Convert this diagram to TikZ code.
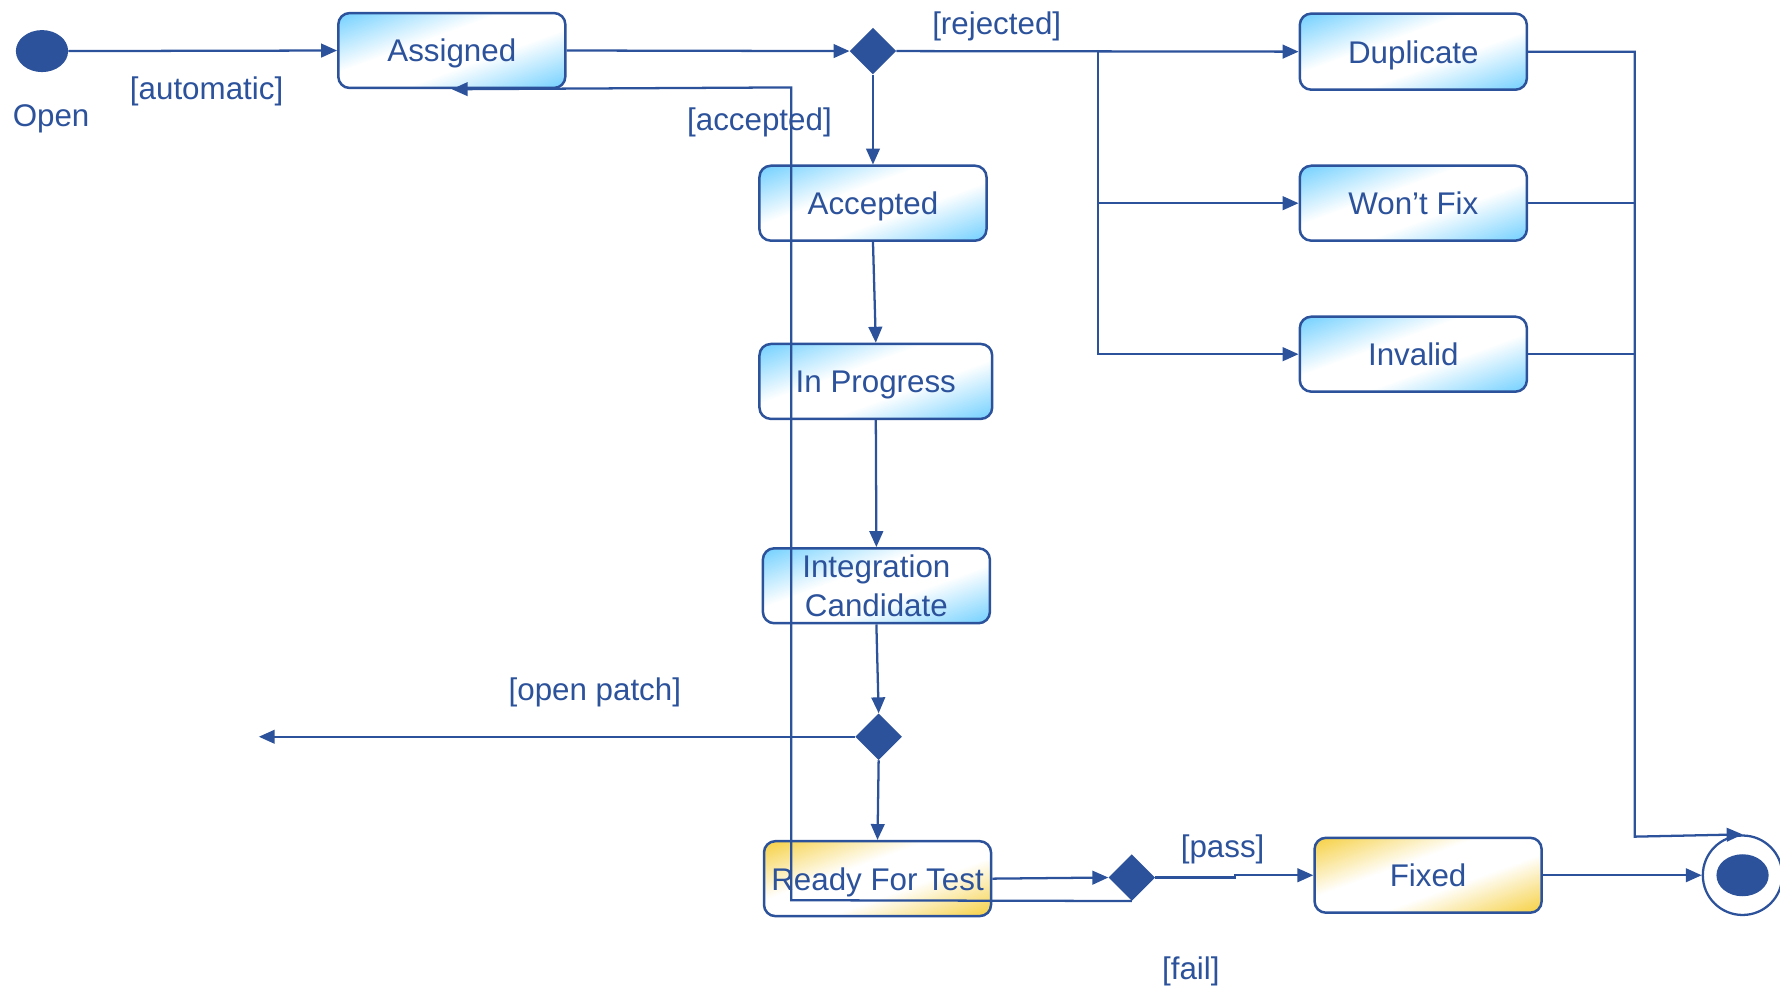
\documentclass[tikz,border=0pt]{standalone}
\usepackage{fontspec}
\setmainfont{Liberation Sans}
\usetikzlibrary{arrows.meta,shapes.geometric}
\definecolor{lc}{RGB}{44,82,155}
\definecolor{lblue}{RGB}{102,204,255}
\definecolor{lgold}{RGB}{245,204,50}
\pgfdeclarehorizontalshading{bluesh}{100bp}{color(0bp)=(lblue); color(16bp)=(lblue); color(42bp)=(white); color(58bp)=(white); color(84bp)=(lblue); color(100bp)=(lblue)}
\pgfdeclarehorizontalshading{goldsh}{100bp}{color(0bp)=(lgold); color(16bp)=(lgold); color(42bp)=(white); color(58bp)=(white); color(84bp)=(lgold); color(100bp)=(lgold)}
\begin{document}
\begin{tikzpicture}[x=1pt,y=-1pt,
  every node/.style={text=lc, font=\fontsize{27.6}{34}\selectfont},
  statebox/.style={draw=lc, line width=2.2pt, rounded corners=10pt, minimum width=200pt, minimum height=66pt, inner sep=0pt, align=center},
  onel/.style={text height=20pt, text depth=0pt},
  bluestate/.style={statebox, shading=bluesh, shading angle=-70},
  goldstate/.style={statebox, shading=goldsh, shading angle=-70},
  dec/.style={diamond, fill=lc, minimum width=41pt, minimum height=41pt, inner sep=0pt},
  conn/.style={draw=lc, line width=2pt},
  arr/.style={conn, -{Triangle[length=14pt,width=12pt]}},
  lbl/.style={inner sep=0pt, onel}
]
\useasboundingbox (0,0) rectangle (1568,869);

% initial and final
\node[ellipse, fill=lc, minimum width=46pt, minimum height=37pt, inner sep=0pt] (open) at (37,45) {};
\node[circle, draw=lc, line width=2pt, minimum size=70pt, inner sep=0pt, fill=white] (final) at (1535,771) {};
\node[ellipse, fill=lc, minimum width=46pt, minimum height=37pt, inner sep=0pt] (finalin) at (1535,771) {};

% states
\node[bluestate, onel] (assigned) at (398,44.5) {Assigned};
\node[bluestate, onel] (accepted) at (769,179) {Accepted};
\node[bluestate, onel, minimum width=205pt] (inprog) at (771.5,336) {In Progress};
\node[bluestate] (ic) at (772,516) {Integration\\Candidate};
\node[goldstate, onel] (rft) at (773,774) {Ready For Test};
\node[goldstate, onel] (fixed) at (1258,771) {Fixed};
\node[bluestate, onel, minimum height=67pt] (dup) at (1245,45.5) {Duplicate};
\node[bluestate, onel] (wont) at (1245,179) {Won’t Fix};
\node[bluestate, onel] (inv) at (1245,312) {Invalid};

% decisions
\node[dec] (d1) at (769,45) {};
\node[dec] (d2) at (774,649) {};
\node[dec] (d3) at (997,773) {};

% labels
\node[lbl] (lopen) at (45,101) {Open};
\node[lbl] (lauto) at (182,78) {[automatic]};
\node[lbl] (lrej) at (878,20) {[rejected]};
\node[lbl] (lacc) at (669,105) {[accepted]};
\node[lbl] (lop) at (524,607) {[open patch]};
\node[lbl] (lpass) at (1077,745) {[pass]};
\node[lbl] (lfail) at (1049,853) {[fail]};

% helper coordinates
\coordinate (br) at (967,45);
\coordinate (bus) at (1440,737);
\coordinate (opend) at (228,649);
\coordinate (failA) at (697,793);
\coordinate (failB) at (697,77);
\coordinate (pj) at (1088,773);

% connectors
\draw[arr] (open.east) -- (assigned.west);
\draw[arr] (assigned.east) -- (d1.west);
\draw[arr] (d1.east) -- (dup.west);
\draw[arr] (br) |- (wont.west);
\draw[arr] (br) |- (inv.west);
\draw[arr] (d1.south) -- (accepted.north);
\draw[arr] (accepted.south) -- (inprog.north);
\draw[arr] (inprog.south) -- (ic.north);
\draw[arr] (ic.south) -- (d2.north);
\draw[arr] (d2.west) -- (opend);
\draw[arr] (d2.south) -- (rft.north);
\draw[arr] (rft.east) -- (d3.west);
\draw[arr] (d3.east) -- (pj) |- (fixed.west);
\draw[arr] (fixed.east) -- (final.west);
\draw[arr] (d3.south) -- (failA) -- (failB) -- (assigned.south);
\draw[arr] (dup.east) -| (bus) -- (final.north);
\draw[conn] (wont.east) -- (wont.east -| bus);
\draw[conn] (inv.east) -- (inv.east -| bus);
\end{tikzpicture}
\end{document}
